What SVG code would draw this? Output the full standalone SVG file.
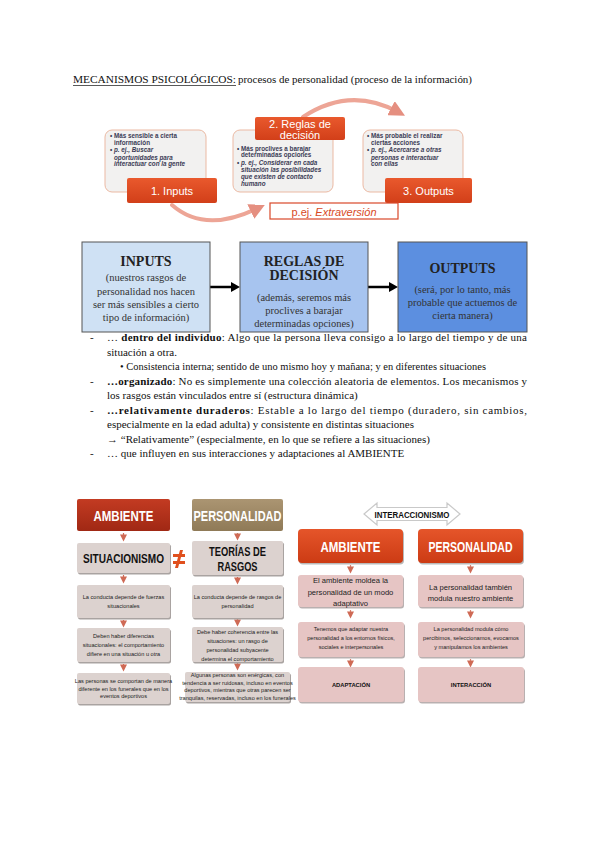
<svg xmlns="http://www.w3.org/2000/svg" width="600" height="848" viewBox="0 0 600 848">
<style>
.serif{font-family:"Liberation Serif","Times New Roman",serif;fill:#111}
.sans{font-family:"Liberation Sans",Arial,sans-serif}
.card{fill:#f2f1f0;stroke:#ebb9a3;stroke-width:1}
.cardtxt{font-family:"Liberation Sans",Arial,sans-serif;font-size:6.3px;fill:#3b3b55;font-weight:bold}
.redlab{fill:url(#redg)}
.labtxt{font-family:"Liberation Sans",Arial,sans-serif;font-size:11px;fill:#fff;text-anchor:middle}
.flow{stroke:#555;stroke-width:1}
.ftitle{font-family:"Liberation Serif","Times New Roman",serif;font-weight:bold;font-size:14px;fill:#222;text-anchor:middle}
.fsub{font-family:"Liberation Serif","Times New Roman",serif;font-size:10.5px;fill:#333;text-anchor:middle}
.gbox{fill:#dcd2cf}
.shadow{fill:#a9a3a1}
.pbox{fill:#e6c5c4}
.tiny{font-family:"Liberation Sans",Arial,sans-serif;font-size:5.6px;fill:#222;text-anchor:middle}
.small{font-family:"Liberation Sans",Arial,sans-serif;font-size:7.6px;fill:#222;text-anchor:middle}
.wt{font-family:"Liberation Sans",Arial,sans-serif;font-weight:bold;fill:#fff;text-anchor:middle}
.bt{font-family:"Liberation Sans",Arial,sans-serif;font-weight:bold;fill:#111;text-anchor:middle}
.arc{fill:none;stroke:#eda596;stroke-width:4;stroke-linecap:round}
</style>
<defs>
<linearGradient id="redg" x1="0" y1="0" x2="0" y2="1"><stop offset="0" stop-color="#e9592d"/><stop offset="1" stop-color="#d23f19"/></linearGradient>
<linearGradient id="darkred" x1="0" y1="0" x2="0" y2="1"><stop offset="0" stop-color="#c33b22"/><stop offset="1" stop-color="#a02814"/></linearGradient>
<linearGradient id="brown" x1="0" y1="0" x2="0" y2="1"><stop offset="0" stop-color="#ab9572"/><stop offset="1" stop-color="#8f7a57"/></linearGradient>
<linearGradient id="orange" x1="0" y1="0" x2="0" y2="1"><stop offset="0" stop-color="#e5552a"/><stop offset="1" stop-color="#cc3b14"/></linearGradient>
<marker id="arcHead" markerWidth="4" markerHeight="4" refX="2" refY="2" orient="auto" markerUnits="strokeWidth"><path d="M0,0 L4,2 L0,4 z" fill="#e58f80"/></marker>
<marker id="tinyHead" markerWidth="6" markerHeight="6" refX="3" refY="3" orient="auto"><path d="M0,0 L6,3 L0,6 z" fill="#cf6a55"/></marker>
</defs>

<!-- Title -->
<g id="title">
<text class="serif" x="73" y="83" font-size="11" textLength="163" lengthAdjust="spacingAndGlyphs">MECANISMOS PSICOLÓGICOS:</text>
<line x1="73" y1="85.5" x2="236" y2="85.5" stroke="#111" stroke-width="0.7"/>
<text class="serif" x="238" y="83" font-size="11" textLength="234" lengthAdjust="spacingAndGlyphs">procesos de personalidad (proceso de la información)</text>
</g>

<!-- Cycle diagram -->
<g id="connectors-cycle">
<path class="arc" d="M172,205 Q205,234 258,208" marker-end="url(#arcHead)"/>
<path class="arc" d="M303,117 Q350,86 398,112" marker-end="url(#arcHead)"/>
</g>
<g id="card1">
<rect class="card" x="105" y="130" width="101" height="62" rx="7"/>
<text class="cardtxt" x="110" y="137.5">• Más sensible a cierta</text>
<text class="cardtxt" x="114" y="144.5">información</text>
<text class="cardtxt" x="110" y="152">• <tspan font-style="italic">p. ej., Buscar</tspan></text>
<text class="cardtxt" x="114" y="159.5" font-style="italic">oportunidades para</text>
<text class="cardtxt" x="114" y="166" font-style="italic">interactuar con la gente</text>
</g>
<g id="card2">
<rect class="card" x="233" y="130" width="100" height="62" rx="7"/>
<text class="cardtxt" x="237" y="150.5">• Más proclives a barajar</text>
<text class="cardtxt" x="241" y="157">determinadas opciones</text>
<text class="cardtxt" x="237" y="165">• <tspan font-style="italic">p. ej., Considerar en cada</tspan></text>
<text class="cardtxt" x="241" y="172" font-style="italic">situación las posibilidades</text>
<text class="cardtxt" x="241" y="179" font-style="italic">que existen de contacto</text>
<text class="cardtxt" x="241" y="186" font-style="italic">humano</text>
</g>
<g id="card3">
<rect class="card" x="363" y="130" width="100" height="62" rx="7"/>
<text class="cardtxt" x="367" y="137.5">• Más probable el realizar</text>
<text class="cardtxt" x="371" y="144.5">ciertas acciones</text>
<text class="cardtxt" x="367" y="152">• <tspan font-style="italic">p. ej., Acercarse a otras</tspan></text>
<text class="cardtxt" x="371" y="159.5" font-style="italic">personas e interactuar</text>
<text class="cardtxt" x="371" y="166" font-style="italic">con ellas</text>
</g>
<g id="label-inputs">
<rect class="redlab" x="127" y="178" width="90" height="25" rx="2"/>
<text class="labtxt" x="172" y="195">1. Inputs</text>
</g>
<g id="label-reglas">
<rect class="redlab" x="255" y="117" width="90" height="23" rx="2"/>
<text class="labtxt" x="300" y="128" font-size="10.5">2. Reglas de</text>
<text class="labtxt" x="300" y="138.5" font-size="10.5">decisión</text>
</g>
<g id="label-outputs">
<rect class="redlab" x="385" y="178" width="87" height="25" rx="2"/>
<text class="labtxt" x="428.5" y="195">3. Outputs</text>
</g>
<g id="label-extra">
<rect x="270" y="203" width="128" height="16" fill="#fff" stroke="#d9492a" stroke-width="1.2"/>
<text class="sans" x="334" y="215.5" font-size="11" fill="#d84a26" text-anchor="middle">p.ej. <tspan font-style="italic">Extraversión</tspan></text>
</g>

<!-- Flow boxes -->
<g id="connectors-flow">
<line x1="210" y1="287" x2="232" y2="287" stroke="#000" stroke-width="2.5"/>
<polygon points="231,282 240,287 231,292" fill="#000"/>
<line x1="368" y1="287" x2="390" y2="287" stroke="#000" stroke-width="2.5"/>
<polygon points="389,282 398,287 389,292" fill="#000"/>
</g>
<g id="flow-inputs">
<rect class="flow" x="82" y="242" width="128" height="90" fill="#cfe1f4"/>
<text class="ftitle" x="146" y="266">INPUTS</text>
<text class="fsub" x="146" y="281">(nuestros rasgos de</text>
<text class="fsub" x="146" y="294.5">personalidad nos hacen</text>
<text class="fsub" x="146" y="308">ser más sensibles a cierto</text>
<text class="fsub" x="146" y="321">tipo de información)</text>
</g>
<g id="flow-reglas">
<rect class="flow" x="240" y="242" width="128" height="90" fill="#a7c4ef"/>
<text class="ftitle" x="304" y="266">REGLAS DE</text>
<text class="ftitle" x="304" y="280">DECISIÓN</text>
<text class="fsub" x="304" y="301">(además, seremos más</text>
<text class="fsub" x="304" y="314">proclives a barajar</text>
<text class="fsub" x="304" y="327">determinadas opciones)</text>
</g>
<g id="flow-outputs">
<rect class="flow" x="398" y="242" width="129" height="90" fill="#5c8fe0"/>
<text class="ftitle" x="462.5" y="273">OUTPUTS</text>
<text class="fsub" x="462.5" y="293">(será, por lo tanto, más</text>
<text class="fsub" x="462.5" y="306">probable que actuemos de</text>
<text class="fsub" x="462.5" y="318.5">cierta manera)</text>
</g>

<!-- Body text -->
<g id="body" class="serif" font-size="11">
<text x="90" y="341">-</text>
<text x="107" y="341" textLength="420" lengthAdjust="spacing">…  <tspan font-weight="bold">dentro del individuo</tspan>: Algo que la persona lleva consigo a lo largo del tiempo y de una</text>
<text x="107" y="355.5">situación a otra.</text>
<text x="120" y="370" textLength="366" lengthAdjust="spacingAndGlyphs">• Consistencia interna; sentido de uno mismo hoy y mañana; y en diferentes situaciones</text>
<text x="90" y="384.5">-</text>
<text x="107" y="384.5" textLength="420" lengthAdjust="spacing"><tspan font-weight="bold">…organizado</tspan>: No es simplemente una colección aleatoria de elementos. Los mecanismos y</text>
<text x="107" y="399">los rasgos están vinculados entre sí (estructura dinámica)</text>
<text x="90" y="413.5">-</text>
<text x="107" y="413.5" textLength="420" lengthAdjust="spacing"><tspan font-weight="bold">…relativamente duraderos</tspan>: Estable a lo largo del tiempo (duradero, sin cambios,</text>
<text x="107" y="428">especialmente en la edad adulta) y consistente en distintas situaciones</text>
<text x="107" y="442.5">→ “Relativamente” (especialmente, en lo que se refiere a las situaciones)</text>
<text x="90" y="457">-</text>
<text x="107" y="457">… que influyen en sus interacciones y adaptaciones al AMBIENTE</text>
</g>

<!-- Bottom-left diagram -->
<g id="connectors-left">
<line x1="123.5" y1="533" x2="123.5" y2="538" stroke="#cf6a55" stroke-width="1.2" marker-end="url(#tinyHead)"/>
<line x1="237.5" y1="533" x2="237.5" y2="537" stroke="#b09070" stroke-width="1.2" marker-end="url(#tinyHead)"/>
<line x1="123.5" y1="575" x2="123.5" y2="580" stroke="#cf6a55" stroke-width="1.2" marker-end="url(#tinyHead)"/>
<line x1="237.5" y1="577" x2="237.5" y2="581" stroke="#cf6a55" stroke-width="1.2" marker-end="url(#tinyHead)"/>
<line x1="123.5" y1="620" x2="123.5" y2="624" stroke="#cf6a55" stroke-width="1.2" marker-end="url(#tinyHead)"/>
<line x1="237.5" y1="619" x2="237.5" y2="623" stroke="#cf6a55" stroke-width="1.2" marker-end="url(#tinyHead)"/>
<line x1="123.5" y1="664" x2="123.5" y2="668" stroke="#cf6a55" stroke-width="1.2" marker-end="url(#tinyHead)"/>
<line x1="237.5" y1="663" x2="237.5" y2="667" stroke="#cf6a55" stroke-width="1.2" marker-end="url(#tinyHead)"/>
</g>
<g id="l-ambiente">
<rect x="77" y="499" width="93" height="32" rx="2" fill="url(#darkred)"/>
<text class="wt" x="123.5" y="520.5" font-size="14" textLength="60" lengthAdjust="spacingAndGlyphs">AMBIENTE</text>
</g>
<g id="l-personalidad">
<rect x="192" y="499" width="91" height="32" rx="2" fill="url(#brown)"/>
<text class="wt" x="237.5" y="520.5" font-size="14" textLength="88" lengthAdjust="spacingAndGlyphs">PERSONALIDAD</text>
</g>
<g id="l-situacionismo">
<rect class="shadow" x="78" y="544.5" width="93" height="30" rx="2"/>
<rect class="gbox" x="77" y="543" width="93" height="30" rx="2"/>
<text class="bt" x="123.5" y="563" font-size="12" textLength="81" lengthAdjust="spacingAndGlyphs">SITUACIONISMO</text>
</g>
<g id="noteq">
<rect x="173" y="554" width="12" height="3" fill="#e0501e"/>
<rect x="173" y="561" width="12" height="3" fill="#e0501e"/>
<polygon points="180,550 183,550 178,568 175,568" fill="#e0501e"/>
</g>
<g id="l-teorias">
<rect class="shadow" x="193" y="542.5" width="91" height="34" rx="2"/>
<rect class="gbox" x="192" y="541" width="91" height="34" rx="2"/>
<text class="bt" x="237.5" y="556" font-size="12" textLength="57" lengthAdjust="spacingAndGlyphs">TEORÍAS DE</text>
<text class="bt" x="237.5" y="571" font-size="12" textLength="40" lengthAdjust="spacingAndGlyphs">RASGOS</text>
</g>
<g id="l-box2">
<rect class="shadow" x="78" y="586.5" width="93" height="33" rx="2"/>
<rect class="gbox" x="77" y="585" width="93" height="33" rx="2"/>
<text class="tiny" x="123.5" y="599" font-size="6">La conducta depende de fuerzas</text>
<text class="tiny" x="123.5" y="607.5" font-size="6">situacionales</text>
</g>
<g id="r-box2">
<rect class="shadow" x="193" y="586.5" width="91" height="33" rx="2"/>
<rect class="gbox" x="192" y="585" width="91" height="33" rx="2"/>
<text class="tiny" x="237.5" y="599" font-size="6">La conducta depende de rasgos de</text>
<text class="tiny" x="237.5" y="607.5" font-size="6">personalidad</text>
</g>
<g id="l-box3">
<rect class="shadow" x="78" y="629.5" width="93" height="34" rx="2"/>
<rect class="gbox" x="77" y="628" width="93" height="34" rx="2"/>
<text class="tiny" x="123.5" y="637.5">Deben haber diferencias</text>
<text class="tiny" x="123.5" y="646.5">situacionales: el comportamiento</text>
<text class="tiny" x="123.5" y="655.5">difiere en una situación u otra</text>
</g>
<g id="r-box3">
<rect class="shadow" x="193" y="628.5" width="91" height="35" rx="2"/>
<rect class="gbox" x="192" y="627" width="91" height="35" rx="2"/>
<text class="tiny" x="237.5" y="633.5">Debe haber coherencia entre las</text>
<text class="tiny" x="237.5" y="642.5">situaciones: un rasgo de</text>
<text class="tiny" x="237.5" y="651.5">personalidad subyacente</text>
<text class="tiny" x="237.5" y="660.5">determina el comportamiento</text>
</g>
<g id="l-box4">
<rect class="shadow" x="78" y="674.5" width="93" height="31" rx="2"/>
<rect class="gbox" x="77" y="673" width="93" height="31" rx="2"/>
<text class="tiny" x="123.5" y="683" font-size="5.2">Las personas se comportan de manera</text>
<text class="tiny" x="123.5" y="690.5" font-size="5.2">diferente en los funerales que en los</text>
<text class="tiny" x="123.5" y="698" font-size="5.2">eventos deportivos</text>
</g>
<g id="r-box4">
<rect class="shadow" x="186" y="673.5" width="105" height="30" rx="2"/>
<rect class="gbox" x="185" y="672" width="105" height="30" rx="2"/>
<text class="tiny" x="237.5" y="677" font-size="4.9">Algunas personas son enérgicas, con</text>
<text class="tiny" x="237.5" y="684.5" font-size="4.9">tendencia a ser ruidosas, incluso en eventos</text>
<text class="tiny" x="237.5" y="692" font-size="4.9">deportivos, mientras que otras parecen ser</text>
<text class="tiny" x="237.5" y="699.5" font-size="4.9">tranquilas, reservadas, incluso en los funerales</text>
</g>

<!-- Bottom-right diagram -->
<g id="interaccionismo">
<polygon points="364,514 377,503 377,507.5 447,507.5 447,503 460,514 447,525 447,520.5 377,520.5 377,525" fill="#fff" stroke="#c9c9c9" stroke-width="1.2"/>
<text class="bt" x="412" y="517.5" font-size="9" textLength="75" lengthAdjust="spacingAndGlyphs">INTERACCIONISMO</text>
</g>
<g id="connectors-right">
<line x1="350.5" y1="565" x2="350.5" y2="570" stroke="#d9826f" stroke-width="1.2" marker-end="url(#tinyHead)"/>
<line x1="470.5" y1="565" x2="470.5" y2="570" stroke="#d9826f" stroke-width="1.2" marker-end="url(#tinyHead)"/>
<line x1="350.5" y1="610" x2="350.5" y2="615" stroke="#d9826f" stroke-width="1.2" marker-end="url(#tinyHead)"/>
<line x1="470.5" y1="610" x2="470.5" y2="615" stroke="#d9826f" stroke-width="1.2" marker-end="url(#tinyHead)"/>
<line x1="350.5" y1="659" x2="350.5" y2="664" stroke="#d9826f" stroke-width="1.2" marker-end="url(#tinyHead)"/>
<line x1="470.5" y1="659" x2="470.5" y2="664" stroke="#d9826f" stroke-width="1.2" marker-end="url(#tinyHead)"/>
</g>
<g id="r-ambiente">
<rect x="299" y="530.5" width="105" height="34" rx="4" fill="#b9b9b9"/>
<rect x="298" y="529" width="105" height="34" rx="4" fill="url(#orange)"/>
<text class="wt" x="350.5" y="552" font-size="15" textLength="60" lengthAdjust="spacingAndGlyphs">AMBIENTE</text>
</g>
<g id="r-personalidad">
<rect x="419" y="530.5" width="105" height="34" rx="4" fill="#b9b9b9"/>
<rect x="418" y="529" width="105" height="34" rx="4" fill="url(#orange)"/>
<text class="wt" x="470.5" y="552" font-size="15" textLength="84" lengthAdjust="spacingAndGlyphs">PERSONALIDAD</text>
</g>
<g id="r-moldea">
<rect x="299" y="576.5" width="105" height="32" rx="3" fill="#b9b0b0"/>
<rect class="pbox" x="298" y="575" width="105" height="32" rx="3"/>
<text class="small" x="350.5" y="583">El ambiente moldea la</text>
<text class="small" x="350.5" y="594.5">personalidad de un modo</text>
<text class="small" x="350.5" y="606">adaptativo</text>
</g>
<g id="r-modula">
<rect x="419" y="576.5" width="105" height="32" rx="3" fill="#b9b0b0"/>
<rect class="pbox" x="418" y="575" width="105" height="32" rx="3"/>
<text class="small" x="470.5" y="589.5">La personalidad también</text>
<text class="small" x="470.5" y="601">modula nuestro ambiente</text>
</g>
<g id="r-adaptar">
<rect x="299" y="623.5" width="106" height="35" rx="3" fill="#b9b0b0"/>
<rect class="pbox" x="298" y="622" width="106" height="35" rx="3"/>
<text class="tiny" x="351" y="630.5" font-size="5.8">Tenemos que adaptar nuestra</text>
<text class="tiny" x="351" y="639.5" font-size="5.8">personalidad a los entornos físicos,</text>
<text class="tiny" x="351" y="648.5" font-size="5.8">sociales e interpersonales</text>
</g>
<g id="r-percibimos">
<rect x="419" y="623.5" width="106" height="35" rx="3" fill="#b9b0b0"/>
<rect class="pbox" x="418" y="622" width="106" height="35" rx="3"/>
<text class="tiny" x="471" y="630.5" font-size="5.8">La personalidad modula cómo</text>
<text class="tiny" x="471" y="639.5" font-size="5.8">percibimos, seleccionamos, evocamos</text>
<text class="tiny" x="471" y="648.5" font-size="5.8">y manipulamos los ambientes</text>
</g>
<g id="r-adaptacion">
<rect x="299" y="668.5" width="106" height="35" rx="3" fill="#b9b0b0"/>
<rect class="pbox" x="298" y="667" width="106" height="35" rx="3"/>
<text class="bt" x="351" y="686.5" font-size="5.8">ADAPTACIÓN</text>
</g>
<g id="r-interaccion">
<rect x="419" y="668.5" width="106" height="35" rx="3" fill="#b9b0b0"/>
<rect class="pbox" x="418" y="667" width="106" height="35" rx="3"/>
<text class="bt" x="471" y="686.5" font-size="5.8">INTERACCIÓN</text>
</g>
</svg>
